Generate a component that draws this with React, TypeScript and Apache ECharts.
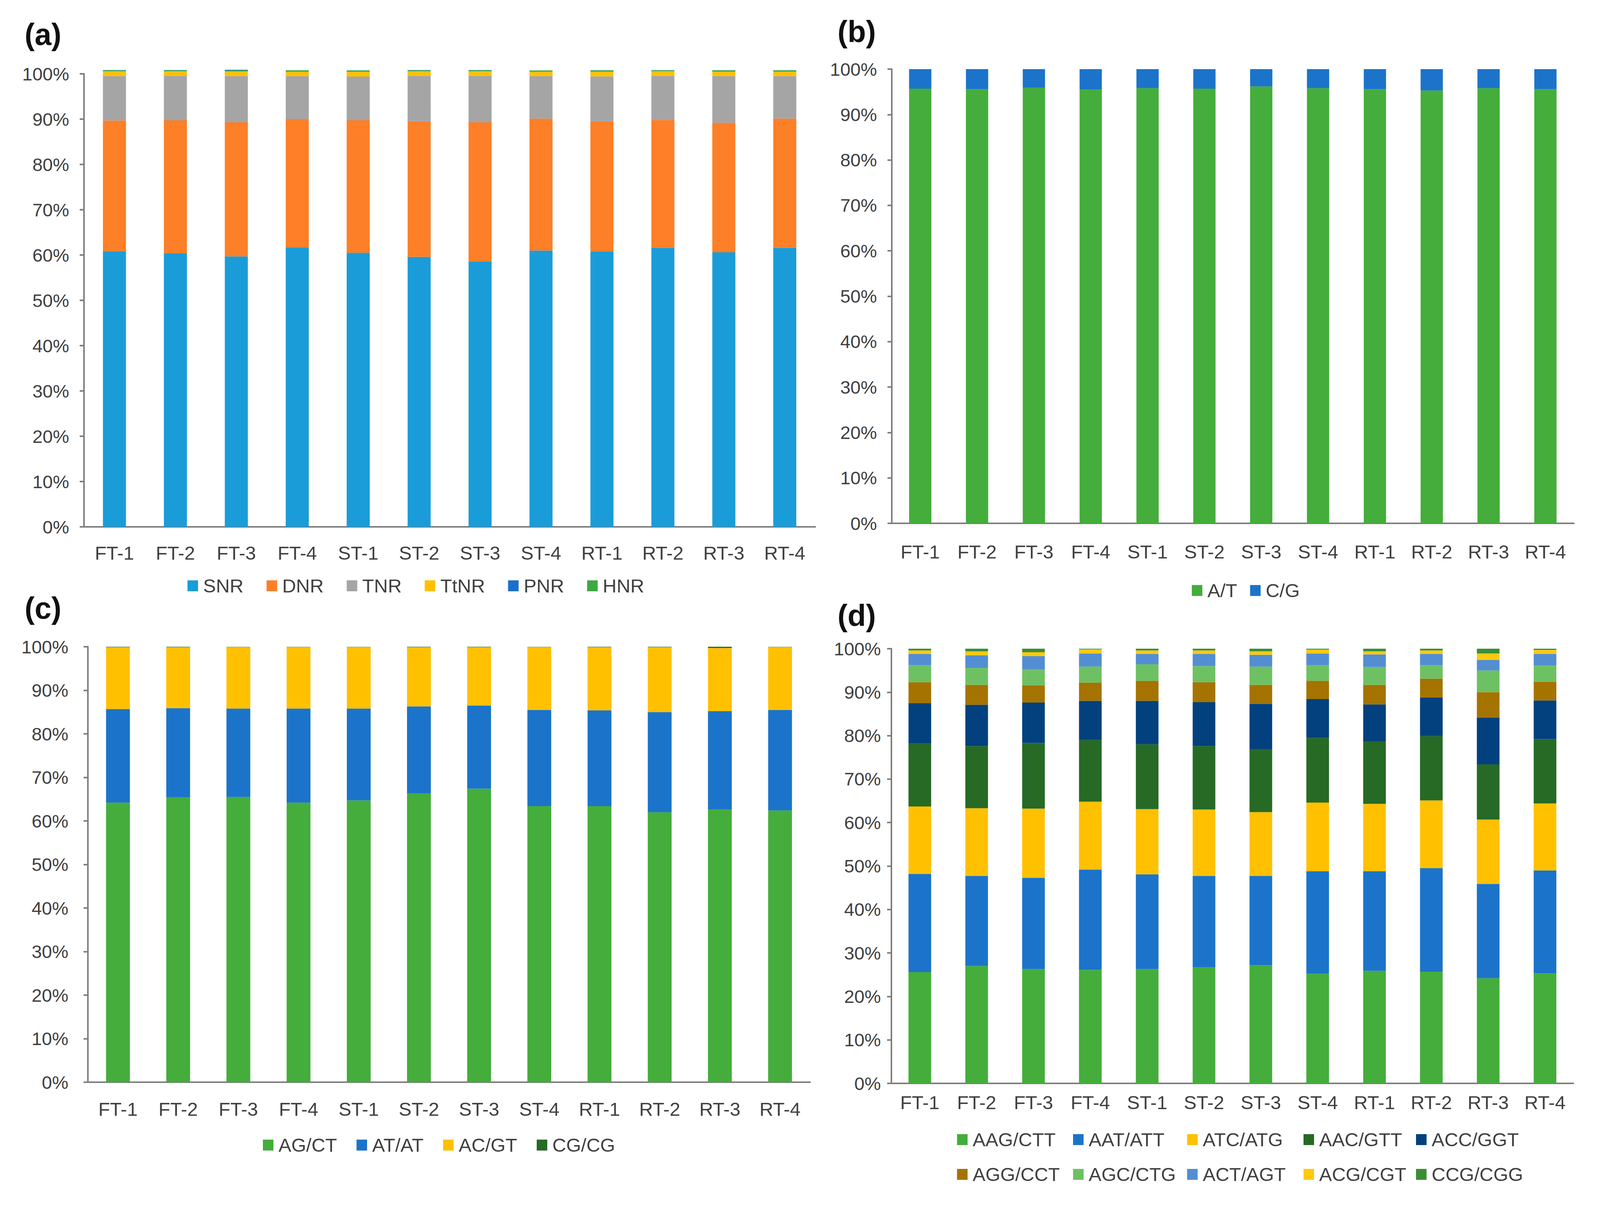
import React, { useEffect, useRef } from "react";
import * as echarts from "echarts";

// ---------- data ----------
const samples = ["FT-1", "FT-2", "FT-3", "FT-4", "ST-1", "ST-2", "ST-3", "ST-4", "RT-1", "RT-2", "RT-3", "RT-4"];

// (a) repeat types (%)
const aNames = ["SNR", "DNR", "TNR", "TtNR", "PNR", "HNR"];
const aSNR = [60.85, 60.4, 59.7, 61.7, 60.5, 59.6, 58.6, 61.0, 60.8, 61.6, 60.6, 61.6];
const aDNR = [28.85, 29.35, 29.6, 28.3, 29.25, 29.9, 30.7, 29.1, 28.7, 28.2, 28.6, 28.5];
const aTNR = [9.8, 9.8, 10.2, 9.5, 9.65, 10.05, 10.25, 9.4, 9.95, 9.75, 10.3, 9.4];
const aTtNR = [1.05, 1.0, 1.05, 0.95, 1.1, 1.0, 1.0, 0.95, 1.05, 1.0, 1.0, 1.0];
const aPNR = [0.12, 0.12, 0.15, 0.12, 0.1, 0.12, 0.12, 0.12, 0.12, 0.1, 0.12, 0.12];
const aHNR = [0.18, 0.18, 0.2, 0.2, 0.16, 0.18, 0.18, 0.18, 0.18, 0.16, 0.18, 0.18];

// (b) mononucleotide (%)
const bNames = ["A/T", "C/G"];
const bAT = [95.7, 95.6, 95.9, 95.5, 95.8, 95.7, 96.2, 95.8, 95.6, 95.3, 95.8, 95.6];
const bCG = [4.3, 4.4, 4.1, 4.5, 4.2, 4.3, 3.8, 4.2, 4.4, 4.7, 4.2, 4.4];

// (c) dinucleotide (%)
const cNames = ["AG/CT", "AT/AT", "AC/GT", "CG/CG"];
const cAGCT = [64.2, 65.4, 65.5, 64.2, 64.7, 66.3, 67.4, 63.4, 63.4, 62.0, 62.7, 62.4];
const cATAT = [21.5, 20.5, 20.3, 21.6, 21.1, 20.0, 19.1, 22.1, 22.0, 23.0, 22.5, 23.1];
const cACGT = [14.2, 14.0, 14.15, 14.15, 14.15, 13.6, 13.4, 14.45, 14.5, 14.9, 14.5, 14.45];
const cCGCG = [0.1, 0.1, 0.05, 0.05, 0.05, 0.1, 0.1, 0.05, 0.1, 0.1, 0.3, 0.05];

// (d) trinucleotide (%)
const dNames = ["AAG/CTT", "AAT/ATT", "ATC/ATG", "AAC/GTT", "ACC/GGT", "AGG/CCT", "AGC/CTG", "ACT/AGT", "ACG/CGT", "CCG/CGG"];
const dAAG = [25.6, 27.0, 26.3, 26.1, 26.3, 26.7, 27.2, 25.2, 25.9, 25.7, 24.2, 25.3];
const dAAT = [22.6, 20.7, 21.0, 23.1, 21.8, 21.0, 20.5, 23.6, 22.9, 23.8, 21.7, 23.7];
const dATC = [15.5, 15.6, 15.9, 15.6, 15.0, 15.3, 14.7, 15.8, 15.5, 15.6, 14.8, 15.4];
const dAAC = [14.5, 14.3, 15.1, 14.2, 14.9, 14.6, 14.5, 14.9, 14.4, 14.8, 12.7, 14.8];
const dACC = [9.3, 9.5, 9.3, 9.0, 10.0, 10.1, 10.4, 8.9, 8.5, 8.9, 10.7, 8.9];
const dAGG = [4.8, 4.6, 4.0, 4.2, 4.6, 4.6, 4.4, 4.2, 4.5, 4.3, 5.9, 4.3];
const dAGC = [3.9, 3.9, 3.6, 3.7, 3.8, 3.7, 4.2, 3.6, 4.1, 3.1, 5.0, 3.7];
const dACT = [2.6, 2.9, 3.1, 3.0, 2.4, 2.8, 2.7, 2.7, 2.9, 2.6, 2.4, 2.7];
const dACG = [0.8, 0.9, 0.9, 0.95, 0.8, 0.8, 0.8, 0.9, 0.7, 0.8, 1.5, 0.9];
const dCCG = [0.4, 0.6, 0.8, 0.15, 0.4, 0.4, 0.6, 0.2, 0.6, 0.4, 1.1, 0.3];

// ---------- styling ----------
const FONT = "'Liberation Sans', Arial, Helvetica, sans-serif";
const TXT = "#404040";
const AXC = "#7f7f7f";

const aColors = ["#1a9cd8", "#fd7f27", "#a5a5a5", "#ffc000", "#1b6fcb", "#3ea843"];
const bColors = ["#44ad3b", "#1b74c9"];
const cColors = ["#44ad3b", "#1b74c9", "#ffc000", "#266a25"];
const dColors = ["#44ad3b", "#1b74c9", "#ffc000", "#266a25", "#02417e", "#a57300", "#6ec163", "#538ed3", "#ffc90e", "#3a8e35"];

const REF_W = 4280;
const REF_H = 3088;

function buildOption(W: number, H: number) {
  const sx = W / REF_W;
  const sy = H / REF_H;
  const X = (v: number) => Math.round(v * sx);
  const Y = (v: number) => Math.round(v * sy);
  const fs = (v: number) => Math.round(v * Math.min(1, (sx + sy) / 2 + 0.01));

  const panels = [
    { grid: { left: X(225), top: Y(189), width: X(1956), height: Y(1160) }, xMargin: Y(42), yMargin: X(40), barWidth: X(62), names: aNames, colors: aColors, data: [aSNR, aDNR, aTNR, aTtNR, aPNR, aHNR], clip: false },
    { grid: { left: X(2386), top: Y(177), width: X(1824), height: Y(1163) }, xMargin: Y(48), yMargin: X(40), barWidth: X(60), names: bNames, colors: bColors, data: [bAT, bCG], clip: true },
    { grid: { left: X(235), top: Y(1656), width: X(1932), height: Y(1115) }, xMargin: Y(44), yMargin: X(52), barWidth: X(64), names: cNames, colors: cColors, data: [cAGCT, cATAT, cACGT, cCGCG], clip: true },
    { grid: { left: X(2385), top: Y(1661), width: X(1824), height: Y(1113) }, xMargin: Y(24), yMargin: X(28), barWidth: X(61), names: dNames, colors: dColors, data: [dAAG, dAAT, dATC, dAAC, dACC, dAGG, dAGC, dACT, dACG, dCCG], clip: true },
  ];

  const legendText = { fontSize: fs(50), color: TXT, fontFamily: FONT, lineHeight: Y(56), padding: [0, 0, 0, X(8)] };
  const legendBase = { orient: "horizontal", icon: "rect", itemWidth: X(28), itemHeight: Y(28), padding: 0, selectedMode: false, textStyle: legendText };

  const dLegendCols = [2560, 2870, 3176, 3487, 3788];
  const dLegendRows = [2918, 3007];

  const xAxes = panels.map((p, i) => ({
    type: "category",
    gridIndex: i,
    data: samples,
    axisLine: { show: true, lineStyle: { color: AXC, width: 4 } },
    axisTick: { show: false },
    axisLabel: { fontSize: fs(50), color: TXT, fontFamily: FONT, margin: p.xMargin, interval: 0 },
  }));
  const yAxes = panels.map((p, i) => ({
    type: "value",
    gridIndex: i,
    min: 0,
    max: 100,
    interval: 10,
    splitLine: { show: false },
    axisLine: { show: true, lineStyle: { color: AXC, width: 4 } },
    axisTick: { show: true, length: X(12), lineStyle: { color: AXC, width: 4 } },
    axisLabel: { fontSize: fs(48), color: TXT, fontFamily: FONT, margin: p.yMargin, formatter: "{value}%" },
  }));
  const series: any[] = [];
  panels.forEach((p, i) => {
    p.names.forEach((n, k) => {
      series.push({
        type: "bar",
        name: n,
        xAxisIndex: i,
        yAxisIndex: i,
        stack: "s" + i,
        barWidth: p.barWidth,
        clip: p.clip,
        data: p.data[k],
        itemStyle: { color: p.colors[k] },
        emphasis: { disabled: true },
      });
    });
  });
  const legends: any[] = [
    { ...legendBase, data: aNames, left: X(502), top: Y(1500 - 28), itemGap: X(62) },
    { ...legendBase, data: bNames, left: X(3188), top: Y(1512 - 28), itemGap: X(34) },
    { ...legendBase, data: cNames, left: X(703), top: Y(2932 - 28), itemGap: X(52) },
  ];
  dNames.forEach((n, k) => {
    const row = Math.floor(k / 5);
    const col = k % 5;
    legends.push({ ...legendBase, data: [n], left: X(dLegendCols[col]), top: Y(dLegendRows[row] - 28) });
  });
  const label = (t: string, x: number, y: number) => ({
    type: "text",
    x: X(x),
    y: Y(y),
    style: { text: t, fontSize: fs(78), fontWeight: "bold", fontFamily: FONT, fill: "#111", verticalAlign: "middle", align: "left" },
  });
  return {
    animation: false,
    backgroundColor: "#ffffff",
    grid: panels.map((p) => ({ ...p.grid, containLabel: false })),
    xAxis: xAxes,
    yAxis: yAxes,
    legend: legends,
    series,
    graphic: [label("(a)", 66, 88), label("(b)", 2240, 81), label("(c)", 66, 1557), label("(d)", 2240, 1576)],
  };
}

export default function App() {
  const ref = useRef<HTMLDivElement>(null);
  useEffect(() => {
    if (!ref.current) return;
    const W = ref.current.clientWidth;
    const H = ref.current.clientHeight;
    const chart = echarts.init(ref.current, undefined, { renderer: "svg" });
    chart.setOption(buildOption(W, H) as any);
    return () => chart.dispose();
  }, []);
  return <div ref={ref} style={{ position: "fixed", left: 0, top: 0, width: "100vw", height: "100vh", background: "#fff" }} />;
}
